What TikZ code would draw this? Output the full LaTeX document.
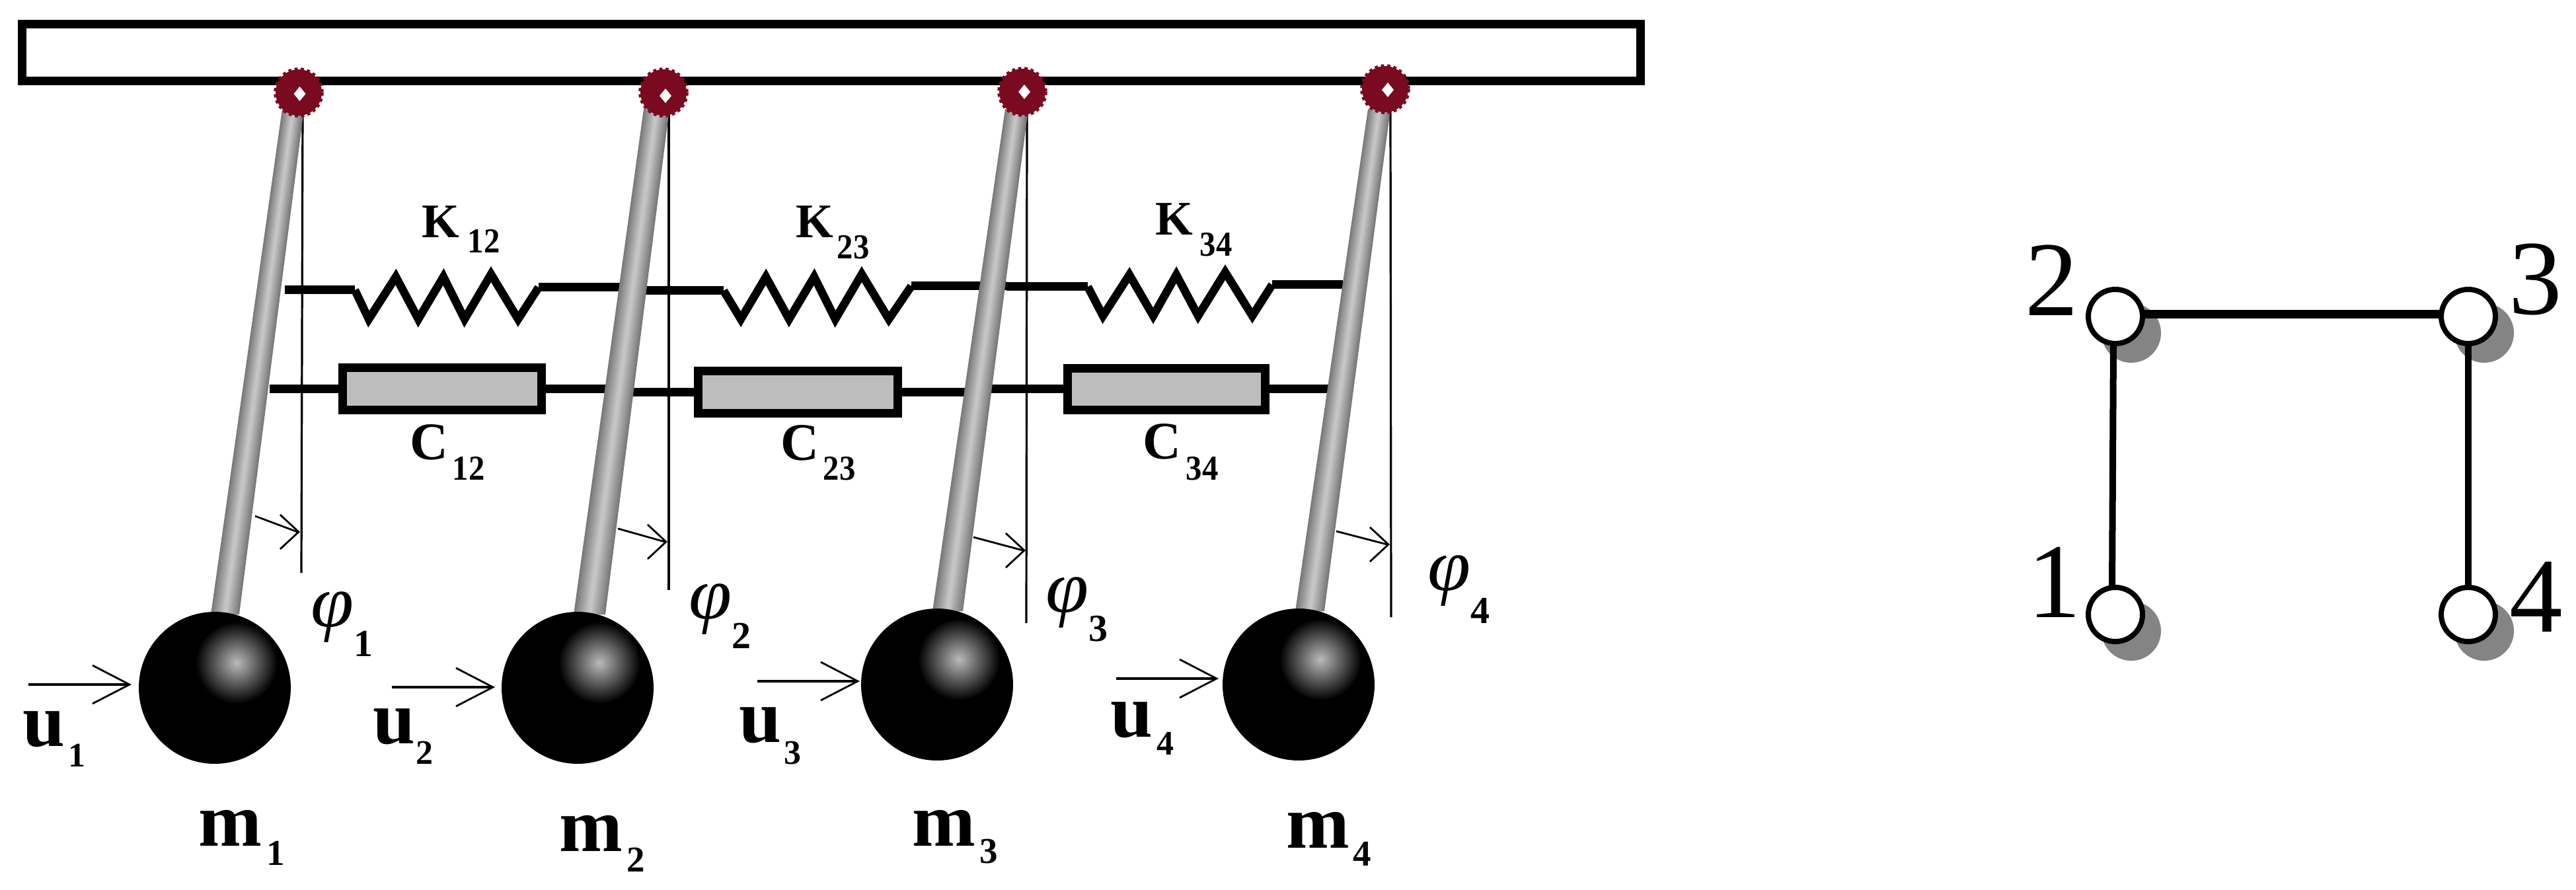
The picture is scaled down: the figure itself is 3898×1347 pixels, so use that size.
\documentclass[tikz,border=0pt]{standalone}
\usepackage{fontspec}
\setmainfont{Liberation Serif}
\usetikzlibrary{arrows.meta,shapes.geometric}
\definecolor{pivotred}{HTML}{7A0A20}
\definecolor{dampgray}{HTML}{BDBDBD}
\definecolor{shadowgray}{HTML}{848484}
\newcommand{\pxfont}[1]{\fontsize{\dimexpr #1pt/4\relax}{\dimexpr #1pt/4\relax}\selectfont}
\newcommand{\nar}[1]{\scalebox{0.92}[1]{\textbf{#1}}}
\newcommand{\wphi}{\scalebox{1.05}[1]{\textit{φ}}}
% name, x, y, main size, main text, kern, drop, sub size, sub text
\newcommand{\sublab}[9]{\node[lbl] (#1) at (#2,#3) {{\pxfont{#4}#5}\kern\dimexpr #6pt/4\relax\raisebox{\dimexpr -#7pt/4\relax}{\pxfont{#8}#9}};}
% x top left, x top right, x bottom left, x bottom right, y top, y bottom
\newcommand{\rodshape}[6]{%
  \foreach \i in {0,...,7}{%
    \pgfmathsetmacro{\f}{\i/16}%
    \pgfmathsetmacro{\p}{52-\i*4.2}%
    \fill[black!\p!white] ({#1+\f*(#2-#1)},#5) -- ({#2-\f*(#2-#1)},#5) -- ({#4-\f*(#4-#3)},#6) -- ({#3+\f*(#4-#3)},#6) -- cycle;
  }}
% name, x, y, highlight x, highlight y
\newcommand{\ballshape}[5]{%
  \node[ballnode] (#1) at (#2,#3) {};
  \begin{scope}
    \clip (#2,#3) circle (113);
    \shade[inner color=black!27!white,outer color=black] (#4,#5) circle (62);
  \end{scope}}
% name, x, y, hole x, hole y
\newcommand{\pivotshape}[5]{%
  \node[pivotnode] (#1) at (#2,#3) {};
  \draw[pivotred,line width=0.9pt,dash pattern=on 1.2pt off 1.2pt] (#2,#3) circle (36);
  \fill[white] (#4,#5-11) -- (#4+9,#5) -- (#4,#5+11) -- (#4-9,#5) -- cycle;}
\tikzset{
  x=0.25pt,y=-0.25pt,
  lbl/.style={anchor=base west,inner sep=0pt,outer sep=0pt},
  wire/.style={line width=3.25pt,line cap=butt},
  zig/.style={line width=3.1pt,line join=miter,miter limit=10},
  damper/.style={draw,line width=3.25pt,fill=dampgray,rectangle,inner sep=0pt,outer sep=0pt},
  thinline/.style={line width=0.8pt},
  forcearrow/.style={line width=1pt,-{Straight Barb[length=14pt,width=14.5pt,line width=0.7pt]}},
  anglearrow/.style={line width=0.7pt,-{Straight Barb[length=7pt,width=13pt]}},
  ballnode/.style={circle,fill=black,minimum size=57.5pt,inner sep=0pt,outer sep=0pt},
  pivotnode/.style={circle,fill=pivotred,minimum size=17.5pt,inner sep=0pt,outer sep=0pt},
  vertex/.style={circle,draw,line width=2pt,fill=white,minimum size=20.5pt,inner sep=0pt,outer sep=0pt},
  vshadow/.style={shadowgray},
  edge/.style={line width=3.25pt},
  edgev/.style={line width=2.5pt},
}
\begin{document}
\begin{tikzpicture}
\useasboundingbox (0,0) rectangle (3898,1347);
\fill[white] (0,0) rectangle (3898,1347);

% top beam
\node[draw,line width=3.25pt,rectangle,minimum width=612.25pt,minimum height=21.5pt,inner sep=0pt,outer sep=0pt] (beam) at (1257.5,80) {};

% plumb lines
\coordinate (pa) at (458,165); \coordinate (pb) at (456,867);
\coordinate (qa) at (1012,170); \coordinate (qb) at (1012,893);
\coordinate (ra) at (1554,170); \coordinate (rb) at (1553,943);
\coordinate (sa) at (2104,165); \coordinate (sb) at (2105,934);
\draw[thinline] (pa) -- (pb);
\draw[thinline] (qa) -- (qb);
\draw[thinline] (ra) -- (rb);
\draw[thinline] (sa) -- (sb);

% dampers
\node[damper,minimum width=75.25pt,minimum height=16pt] (d12) at (668.5,588.5) {};
\node[damper,minimum width=75.5pt,minimum height=16pt] (d23) at (1207.5,594) {};
\node[damper,minimum width=74.75pt,minimum height=15.75pt] (d34) at (1765,589) {};
\coordinate (c12a) at (408,588.5); \coordinate (c12b) at (920,588.5);
\coordinate (c23a) at (950,594); \coordinate (c23b) at (1465,594);
\coordinate (c34a) at (1495,589); \coordinate (c34b) at (2012,589);
\draw[wire] (c12a) -- (d12);
\draw[wire] (d12) -- (c12b);
\draw[wire] (c23a) -- (d23);
\draw[wire] (d23) -- (c23b);
\draw[wire] (c34a) -- (d34);
\draw[wire] (d34) -- (c34b);

% springs
\coordinate (k12a) at (431,439); \coordinate (k12l) at (537,439);
\coordinate (k12r) at (815,435); \coordinate (k12b) at (940,435);
\coordinate (k23a) at (975,440); \coordinate (k23l) at (1095,440);
\coordinate (k23r) at (1379,433); \coordinate (k23b) at (1523,433);
\coordinate (k34a) at (1523,434); \coordinate (k34l) at (1646,434);
\coordinate (k34r) at (1925,431); \coordinate (k34b) at (2032,431);
\draw[wire] (k12a) -- (k12l);
\draw[wire] (k12r) -- (k12b);
\draw[wire] (k23a) -- (k23l);
\draw[wire] (k23r) -- (k23b);
\draw[wire] (k34a) -- (k34l);
\draw[wire] (k34r) -- (k34b);
\draw[zig] (k12l) -- (558,483) -- (599,419) -- (633,483) -- (671,419) -- (703,483) -- (743,415) -- (784,483) -- (k12r);
\draw[zig] (k23l) -- (1121,483) -- (1159,419) -- (1194,483) -- (1232,419) -- (1264,483) -- (1304,415) -- (1345,483) -- (k23r);
\draw[zig] (k34l) -- (1669,478) -- (1709,416) -- (1745,478) -- (1780,416) -- (1813,478) -- (1854,412) -- (1895,478) -- (k34r);

% rods
\rodshape{427}{460}{319}{362}{165}{930}
\rodshape{974}{1013}{868}{916}{165}{930}
\rodshape{1521}{1556}{1411}{1457}{165}{925}
\rodshape{2070}{2104}{1960}{2004}{165}{925}

% pivots
\pivotshape{p1}{452}{140}{453.5}{142}
\pivotshape{p2}{1004}{140}{1007}{145}
\pivotshape{p3}{1547}{139}{1550}{139}
\pivotshape{p4}{2096}{135}{2100}{136}

% balls
\ballshape{m1b}{325}{1041}{358}{1003}
\ballshape{m2b}{874}{1041}{907}{1003}
\ballshape{m3b}{1418}{1036}{1451}{998}
\ballshape{m4b}{1965}{1036}{1998}{998}

% force arrows
\coordinate (f1a) at (43,1036); \coordinate (f1b) at (199,1036);
\coordinate (f2a) at (593,1040); \coordinate (f2b) at (749,1040);
\coordinate (f3a) at (1146,1031); \coordinate (f3b) at (1301,1031);
\coordinate (f4a) at (1689,1027); \coordinate (f4b) at (1844,1027);
\draw[forcearrow] (f1a) -- (f1b);
\draw[forcearrow] (f2a) -- (f2b);
\draw[forcearrow] (f3a) -- (f3b);
\draw[forcearrow] (f4a) -- (f4b);

% angle arrows
\coordinate (a1a) at (386,781); \coordinate (a1b) at (454,805);
\coordinate (a2a) at (935,800); \coordinate (a2b) at (1010,820);
\coordinate (a3a) at (1473,813); \coordinate (a3b) at (1552,833);
\coordinate (a4a) at (2022,804); \coordinate (a4b) at (2103,824);
\draw[anglearrow] (a1a) -- ([xshift=-1pt]a1b) -- (a1b);
\draw[anglearrow] (a2a) -- ([xshift=-1pt]a2b) -- (a2b);
\draw[anglearrow] (a3a) -- ([xshift=-1pt]a3b) -- (a3b);
\draw[anglearrow] (a4a) -- ([xshift=-1pt]a4b) -- (a4b);

% spring and damper labels
\sublab{K12}{638}{360}{73}{\textbf{K}}{13}{23}{53}{\nar{12}}
\sublab{K23}{1204}{360}{73}{\textbf{K}}{6}{32}{53}{\nar{23}}
\sublab{K34}{1748}{356}{73}{\textbf{K}}{11}{32}{53}{\nar{34}}
\sublab{C12}{620}{696}{80}{\textbf{C}}{7}{31}{53}{\nar{12}}
\sublab{C23}{1181}{697}{80}{\textbf{C}}{7}{30}{53}{\nar{23}}
\sublab{C34}{1729}{695}{80}{\textbf{C}}{8}{32}{53}{\nar{34}}

% mass labels
\sublab{M1}{300}{1280}{115}{\textbf{m}}{8}{29}{55}{\textbf{1}}
\sublab{M2}{846}{1288}{115}{\textbf{m}}{7}{31}{55}{\textbf{2}}
\sublab{M3}{1380}{1280}{115}{\textbf{m}}{7}{26}{55}{\textbf{3}}
\sublab{M4}{1946}{1283}{115}{\textbf{m}}{6}{27}{55}{\textbf{4}}

% input labels
\sublab{U1}{35}{1129}{115}{\textbf{u}}{5}{31}{52}{\textbf{1}}
\sublab{U2}{564}{1125}{115}{\textbf{u}}{2}{31}{52}{\textbf{2}}
\sublab{U3}{1118}{1123}{115}{\textbf{u}}{5}{33}{52}{\textbf{3}}
\sublab{U4}{1680}{1115}{115}{\textbf{u}}{7}{27}{52}{\textbf{4}}

% angle labels
\sublab{F1}{470}{948}{112}{\wphi}{0}{45}{58}{\textbf{1}}
\sublab{F2}{1042}{936}{112}{\wphi}{0}{45}{58}{\textbf{2}}
\sublab{F3}{1582}{926}{112}{\wphi}{0}{44}{58}{\textbf{3}}
\sublab{F4}{2160}{893}{112}{\wphi}{0}{50}{58}{\textbf{4}}

% graph
\fill[vshadow] (3225,504) circle (45);
\fill[vshadow] (3759,504) circle (45);
\fill[vshadow] (3225,955) circle (45);
\fill[vshadow] (3759,955) circle (45);
\node[vertex] (n1) at (3201,930) {};
\node[vertex] (n2) at (3201,479) {};
\node[vertex] (n3) at (3735,479) {};
\node[vertex] (n4) at (3735,930) {};
\draw[edge] ([yshift=0.75pt]n2.east) -- ([yshift=0.75pt]n3.west);
\draw[edgev] ([xshift=-0.75pt]n2.south) -- ([xshift=-1.25pt]n1.north);
\draw[edgev] (n3.south) -- (n4.north);
\node[lbl,font=\pxfont{161}] (t2) at (3064,478) {2};
\node[lbl,font=\pxfont{161}] (t3) at (3796,476) {3};
\node[lbl,font=\pxfont{161}] (t1) at (3068,934) {1};
\node[lbl,font=\pxfont{161}] (t4) at (3797,956) {4};
\end{tikzpicture}
\end{document}
